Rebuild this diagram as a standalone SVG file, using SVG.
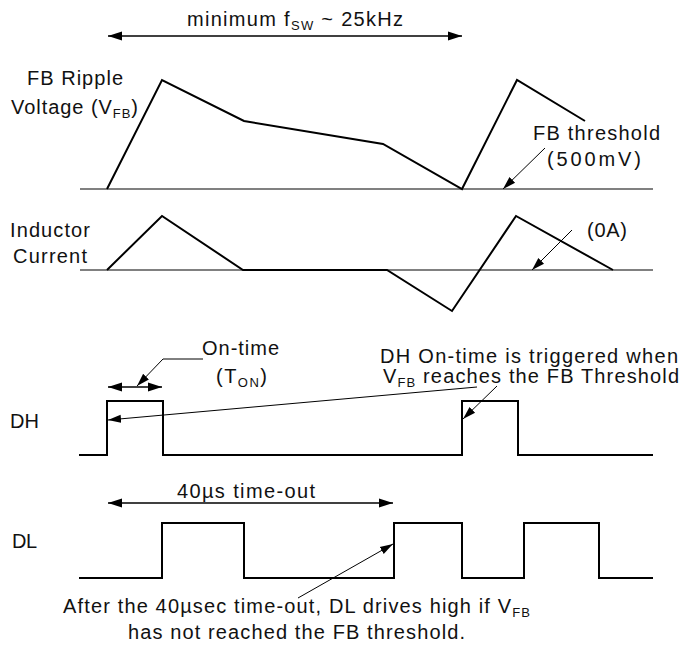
<svg xmlns="http://www.w3.org/2000/svg" width="682" height="662" viewBox="0 0 682 662">
<style>
text { font-family: "Liberation Sans Narrow","Liberation Sans",Arial,sans-serif; font-size: 20px; fill: #111; }
.sub { font-size: 13px; }
.wave { fill: none; stroke: #000; stroke-width: 2; stroke-linejoin: miter; }
.base { fill: none; stroke: #808080; stroke-width: 2; }
.lead { fill: none; stroke: #000; stroke-width: 1; }
.dim { fill: none; stroke: #000; stroke-width: 1.3; }
</style>
<defs>
<marker id="ah" markerUnits="userSpaceOnUse" markerWidth="15" markerHeight="10" refX="14" refY="5" orient="auto-start-reverse" viewBox="0 0 15 10">
<path d="M0,0.5 L14,5 L0,9.5 z" fill="#000"/>
</marker>
<marker id="ahs" markerUnits="userSpaceOnUse" markerWidth="14" markerHeight="10" refX="13" refY="5" orient="auto" viewBox="0 0 14 10">
<path d="M0,1 L13,5 L0,9 z" fill="#000"/>
</marker>
</defs>

<rect width="682" height="662" fill="#fff"/>

<g id="fb-ripple">
<line class="base" x1="80" y1="189" x2="653" y2="189"/>
<polyline class="wave" points="107,189 162,80 244,121 383,144 462,189 517,80 585,121"/>
<text x="27" y="85" textLength="96">FB Ripple</text>
<text x="11" y="114" textLength="127">Voltage (V<tspan class="sub" dy="4">FB</tspan><tspan dy="-4">)</tspan></text>
<text x="533" y="140" textLength="127">FB threshold</text>
<text x="547" y="166" textLength="94">(500mV)</text>
</g>

<g id="inductor-current">
<line class="base" x1="80" y1="270" x2="653" y2="270"/>
<polyline class="wave" points="107,270 162,216 243,270 387,270 452,311 516,216 613,270"/>
<text x="10" y="237" textLength="80">Inductor</text>
<text x="13" y="263" textLength="74">Current</text>
<text x="587" y="237" textLength="40">(0A)</text>
</g>

<g id="dh">
<polyline class="wave" points="79,455 107,455 107,401 163,401 163,455 462,455 462,401 518,401 518,455 653,455"/>
<text x="10" y="428" textLength="29">DH</text>
<text x="202" y="355" textLength="77">On-time</text>
<text x="216" y="383" textLength="51">(T<tspan class="sub" dy="4">ON</tspan><tspan dy="-4">)</tspan></text>
<text x="380" y="363" textLength="298">DH On-time is triggered when</text>
<text x="383" y="383" textLength="296">V<tspan class="sub" dy="4">FB</tspan><tspan dy="-4"> reaches the FB Threshold</tspan></text>
</g>

<g id="dl">
<polyline class="wave" points="79,578 162,578 162,523 244,523 244,578 394,578 394,523 462,523 462,578 524,578 524,523 599,523 599,578 653,578"/>
<text x="12" y="548" textLength="25">DL</text>
<text x="177" y="498" textLength="138">40µs time-out</text>
<text x="63" y="613" textLength="467">After the 40µsec time-out, DL drives high if V<tspan class="sub" dy="4">FB</tspan></text>
<text x="128" y="639" textLength="337">has not reached the FB threshold.</text>
</g>

<g id="top-label">
<text x="187" y="26" textLength="216">minimum f<tspan class="sub" dy="4">SW</tspan><tspan dy="-4"> ~ 25kHz</tspan></text>
</g>

<g id="connectors">
<line class="dim" x1="108" y1="36" x2="462" y2="36" marker-start="url(#ah)" marker-end="url(#ah)"/>
<line class="lead" x1="545" y1="148" x2="503" y2="189" marker-end="url(#ahs)"/>
<line class="lead" x1="572" y1="230" x2="532" y2="270" marker-end="url(#ahs)"/>
<line class="dim" x1="108" y1="387" x2="162" y2="387" marker-start="url(#ah)" marker-end="url(#ah)"/>
<polyline class="lead" points="203,359 163,359 137,386" marker-end="url(#ahs)"/>
<line class="lead" x1="477" y1="387" x2="108" y2="420" marker-end="url(#ahs)"/>
<line class="lead" x1="497" y1="386" x2="463" y2="419" marker-end="url(#ahs)"/>
<line class="dim" x1="108" y1="503" x2="393" y2="503" marker-start="url(#ah)" marker-end="url(#ah)"/>
<line class="lead" x1="298" y1="598" x2="393" y2="544" marker-end="url(#ahs)"/>
</g>
</svg>
